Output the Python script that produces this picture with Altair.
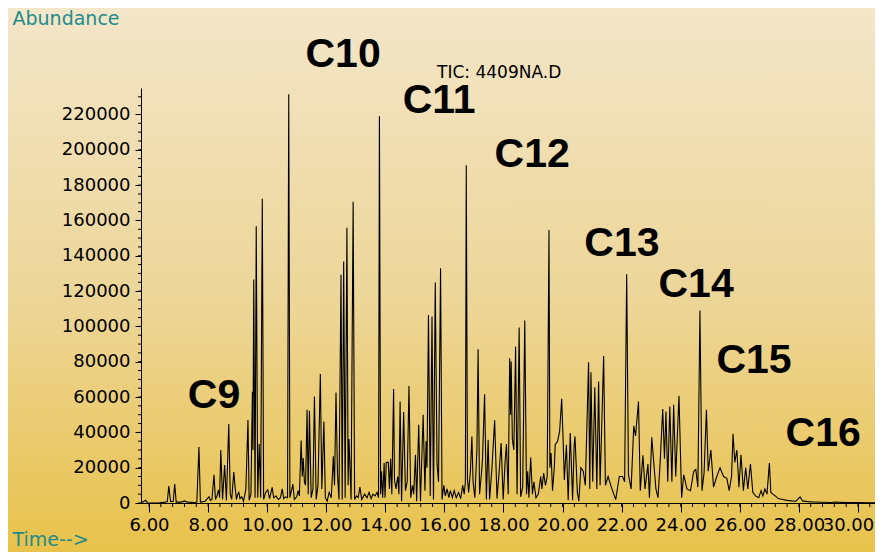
import altair as alt
import pandas as pd

# ---- chromatogram trace (retention time [min], abundance) ----
TRACE_06_10 = [
    (5.73, 0), (5.89, 1500), (5.95, 0), (6.30, 0), (6.55, 500), (6.62, 800),
    (6.67, 9600), (6.73, 800), (6.82, 1000), (6.87, 10700), (6.92, 500),
    (7.10, 500), (7.20, 1200), (7.30, 500), (7.55, 300), (7.62, 500),
    (7.69, 31700), (7.74, 500), (7.90, 1000), (8.03, 3500), (8.08, 1500),
    (8.13, 2000), (8.20, 16000), (8.25, 2000), (8.30, 4000), (8.35, 7500),
    (8.39, 3000), (8.43, 30000), (8.49, 2000), (8.56, 21500), (8.62, 1500),
    (8.70, 44700), (8.75, 5000), (8.80, 2000), (8.87, 17500), (8.92, 8000),
    (8.96, 2000), (9.00, 5000), (9.04, 6000), (9.08, 2500), (9.14, 3500),
    (9.20, 1000), (9.28, 8000), (9.35, 47000), (9.39, 1500), (9.45, 5000),
    (9.50, 63000), (9.52, 30000), (9.545, 126500), (9.59, 3000),
    (9.63, 156700), (9.68, 3000), (9.73, 33400), (9.78, 3000),
    (9.835, 172300), (9.88, 2000), (9.95, 6000),
]
TRACE_10_14 = [
    (10.02, 7500), (10.08, 2500), (10.17, 8900), (10.22, 3000), (10.30, 4000),
    (10.38, 2000), (10.45, 3000), (10.51, 8000), (10.56, 2500), (10.62, 3500),
    (10.69, 3000), (10.73, 231500), (10.77, 3000), (10.87, 10700), (10.92, 2000),
    (11.00, 3500), (11.05, 7000), (11.09, 4000), (11.15, 35400), (11.19, 15000),
    (11.22, 25400), (11.26, 12000), (11.30, 10000), (11.35, 52800), (11.39, 5000),
    (11.43, 52200), (11.49, 3000), (11.55, 8000), (11.60, 60300), (11.66, 2000),
    (11.72, 10000), (11.80, 73100), (11.85, 8000), (11.92, 46200), (11.97, 3000),
    (12.03, 1000), (12.10, 6000), (12.17, 3000), (12.24, 26400), (12.28, 10000),
    (12.33, 62600), (12.38, 17000), (12.43, 2000), (12.50, 129200), (12.54, 2000),
    (12.59, 136700), (12.64, 3000), (12.70, 155900), (12.74, 10000),
    (12.77, 36200), (12.84, 2000), (12.91, 170600), (12.96, 2000), (13.02, 4000),
    (13.08, 3000), (13.14, 9000), (13.20, 2000), (13.30, 5000), (13.38, 3000),
    (13.45, 6000), (13.52, 2500), (13.58, 5000), (13.65, 4000), (13.72, 6000),
    (13.77, 3000), (13.80, 219000), (13.84, 5000), (13.87, 18000), (13.91, 3000),
    (13.96, 22600), (13.99, 3000), (14.03, 23000),
]
TRACE_14_18 = [
    (14.10, 23000), (14.14, 8000), (14.18, 25000), (14.22, 5000), (14.28, 64500),
    (14.31, 13000), (14.36, 8000), (14.42, 15000), (14.46, 5000), (14.50, 57500),
    (14.55, 1000), (14.62, 51500), (14.68, 7000), (14.74, 12000), (14.80, 66300),
    (14.86, 3000), (14.92, 10000), (14.96, 5000), (15.02, 27300), (15.06, 1000),
    (15.13, 44300), (15.19, 1000), (15.28, 50000), (15.34, 7000), (15.38, 35000),
    (15.41, 20000), (15.46, 106500), (15.52, 4000), (15.58, 105600), (15.63, 2000),
    (15.69, 124800), (15.75, 22000), (15.80, 12000), (15.87, 132900), (15.92, 2000),
    (15.98, 10000), (16.03, 4000), (16.09, 8000), (16.15, 3000), (16.20, 7000),
    (16.27, 3000), (16.33, 7000), (16.40, 3000), (16.48, 6000), (16.55, 2500),
    (16.62, 10000), (16.67, 5000), (16.71, 12000), (16.74, 191300), (16.78, 14000),
    (16.82, 6000), (16.88, 18000), (16.93, 37700), (16.97, 12000), (17.03, 3000),
    (17.10, 30000), (17.14, 87100), (17.19, 5000), (17.26, 18000), (17.29, 25000),
    (17.36, 61600), (17.42, 2000), (17.48, 35800), (17.53, 2000), (17.61, 20000),
    (17.70, 46800), (17.78, 2500), (17.85, 17000), (17.92, 33900), (17.99, 2000),
]
TRACE_18_22 = [
    (18.05, 22000), (18.10, 33400), (18.16, 5000), (18.21, 82000), (18.24, 50000),
    (18.26, 80100), (18.30, 36000), (18.35, 30000), (18.41, 88600), (18.46, 5000),
    (18.53, 99400), (18.58, 3500), (18.65, 9000), (18.72, 103300), (18.78, 5000),
    (18.82, 18000), (18.86, 3000), (18.92, 25800), (18.98, 5000), (19.03, 12000),
    (19.10, 3000), (19.18, 5000), (19.26, 15000), (19.30, 8000), (19.36, 17000),
    (19.42, 10000), (19.48, 15000), (19.54, 154600), (19.57, 20000), (19.61, 28300),
    (19.66, 7000), (19.72, 20000), (19.75, 33000), (19.83, 35000), (19.90, 40500),
    (19.97, 59000), (20.01, 40000), (20.06, 13000), (20.13, 33000), (20.19, 1500),
    (20.26, 39600), (20.34, 1500), (20.39, 32000), (20.42, 37700), (20.50, 6000),
    (20.55, 1000), (20.62, 20000), (20.70, 18000), (20.77, 10000), (20.88, 79700),
    (20.92, 8000), (20.96, 74100), (21.02, 12000), (21.09, 65600), (21.16, 8000),
    (21.22, 68800), (21.27, 10000), (21.39, 83300), (21.45, 10000), (21.54, 15000),
    (21.65, 9000), (21.80, 2000), (21.92, 15000),
]
TRACE_22_26 = [
    (22.03, 15000), (22.10, 12000), (22.17, 129500), (22.23, 16000), (22.32, 8000),
    (22.41, 43700), (22.47, 38000), (22.57, 57500), (22.63, 7000), (22.72, 27000),
    (22.79, 8000), (22.89, 22000), (22.94, 3000), (23.02, 37200), (23.10, 20000),
    (23.16, 8000), (23.23, 3000), (23.30, 22000), (23.39, 53200), (23.45, 25000),
    (23.50, 51800), (23.56, 12000), (23.63, 54700), (23.70, 12000), (23.76, 55600),
    (23.83, 15000), (23.94, 60700), (24.03, 3000), (24.10, 16000), (24.21, 8000),
    (24.33, 7000), (24.44, 18000), (24.51, 19000), (24.58, 9000), (24.65, 109000),
    (24.72, 7000), (24.79, 17000), (24.87, 52800), (24.93, 18000), (25.02, 30000),
    (25.11, 9000), (25.22, 15000), (25.33, 20000), (25.45, 15000), (25.56, 14000),
    (25.64, 7000), (25.72, 15000), (25.77, 39200), (25.83, 23000), (25.90, 30000),
    (25.97, 9000),
]
TRACE_26_31 = [
    (26.04, 27300), (26.12, 7000), (26.20, 20000), (26.27, 8000), (26.36, 22000),
    (26.44, 6000), (26.53, 4000), (26.64, 3000), (26.72, 7000), (26.78, 4000),
    (26.85, 8000), (26.92, 5000), (27.00, 22600), (27.05, 6000), (27.12, 5000),
    (27.20, 4000), (27.30, 2500), (27.45, 2000), (27.60, 1500), (27.75, 1200),
    (27.90, 1000), (28.04, 3500), (28.12, 1200), (28.30, 800), (28.50, 600),
    (28.80, 400), (29.10, 300), (29.22, 600), (29.60, 200), (30.00, 200),
    (30.40, 100), (30.85, 100),
]

# ---- annotations ----
LABEL_TEXT = ["C9", "C10", "C11", "C12", "C13", "C14", "C15", "C16"]
LABEL_TIME = [8.20, 12.57, 15.82, 18.97, 22.01, 24.52, 26.48, 28.82]
LABEL_ABUND = [60500, 253900, 227400, 196800, 146500, 123300, 80300, 39000]
FILE_LABEL = ["TIC: 4409NA.D"]
FILE_TIME = [15.75]
FILE_ABUND = [243500]

# ---- axis ticks ----
X_DOMAIN = [5.729, 30.576]
Y_DOMAIN = [0, 235000]
X_MAJOR = [6, 8, 10, 12, 14, 16, 18, 20, 22, 24, 26, 28, 30]
Y_MAJOR = [0, 20000, 40000, 60000, 80000, 100000, 120000, 140000, 160000,
           180000, 200000, 220000]
X_MINOR = [round(6 + 0.4 * i, 1) for i in range(62)]
Y_MINOR = [5000 * i for i in range(47)]

TEAL = "#1E8C8C"
W, H = 734, 415
PAD_L, PAD_T, PAD_B = 133, 80, 49

trace = pd.DataFrame(
    TRACE_06_10 + TRACE_10_14 + TRACE_14_18 + TRACE_18_22 + TRACE_22_26 + TRACE_26_31,
    columns=["time", "abundance"],
)
labels = pd.DataFrame({"text": LABEL_TEXT, "time": LABEL_TIME, "abundance": LABEL_ABUND})
file_lbl = pd.DataFrame({"text": FILE_LABEL, "time": FILE_TIME, "abundance": FILE_ABUND})
xminor = pd.DataFrame({"time": X_MINOR, "abundance": [0] * len(X_MINOR)})
yminor = pd.DataFrame({"abundance": Y_MINOR, "time": [X_DOMAIN[0]] * len(Y_MINOR)})

xscale = alt.Scale(domain=X_DOMAIN, nice=False, zero=False)
yscale = alt.Scale(domain=Y_DOMAIN, nice=False, zero=False)

x_axis = alt.Axis(
    values=X_MAJOR, format=".2f", tickSize=9, labelPadding=4, labelOverlap=False,
    labelFlush=False, labelFont="DejaVu Sans", labelFontSize=18, labelColor="black",
    labelOffset={"condition": {"test": "datum.value == 30", "value": -10}, "value": 0},
    domainColor="black", tickColor="black", grid=False, zindex=1,
    title="Time-->", titleColor=TEAL, titleFont="DejaVu Sans", titleFontSize=19,
    titleFontWeight="normal", titleAngle=0, titleAlign="left",
    titleBaseline="alphabetic", titleX=-129, titleY=42,
)
y_axis = alt.Axis(
    values=Y_MAJOR, format="d", tickSize=6, labelPadding=5, labelOverlap=False,
    labelFont="DejaVu Sans", labelFontSize=18, labelColor="black",
    domainColor="black", tickColor="black", grid=False, zindex=1,
    title="Abundance", titleColor=TEAL, titleFont="DejaVu Sans", titleFontSize=19,
    titleFontWeight="normal", titleAngle=0, titleAlign="left",
    titleBaseline="alphabetic", titleX=-129, titleY=-64,
)


def X(field="time:Q"):
    return alt.X(field, scale=xscale, axis=x_axis)


def Y(field="abundance:Q"):
    return alt.Y(field, scale=yscale, axis=y_axis)


bg = alt.Chart(pd.DataFrame({"k": [0]})).mark_rect(
    color=alt.Gradient(
        gradient="linear",
        stops=[
            alt.GradientStop(color="#F3E6C9", offset=0),
            alt.GradientStop(color="#EDD596", offset=0.55),
            alt.GradientStop(color="#E8C24A", offset=1),
        ],
        x1=0, x2=0, y1=0, y2=1,
    )
).encode(
    x=alt.value(-PAD_L), x2=alt.value(W), y=alt.value(-PAD_T), y2=alt.value(H + PAD_B)
)

line = alt.Chart(trace).mark_line(color="black", strokeWidth=1.1).encode(x=X(), y=Y())

xticks = alt.Chart(xminor).mark_rule(color="black", strokeWidth=1).encode(
    x=X(), y=alt.value(H), y2=alt.value(H + 4),
)
yticks = alt.Chart(yminor).mark_rule(color="black", strokeWidth=1).encode(
    y=Y(), x=alt.value(-3), x2=alt.value(0),
)

peak_labels = alt.Chart(labels).mark_text(
    font="Liberation Sans", fontSize=41, fontWeight="bold", color="black",
    align="center", baseline="middle",
).encode(x=X(), y=Y(), text="text:N")

file_text = alt.Chart(file_lbl).mark_text(
    font="DejaVu Sans", fontSize=17, color="black", align="left", baseline="middle",
).encode(x=X(), y=Y(), text="text:N")

chart = alt.layer(bg, xticks, yticks, line, peak_labels, file_text).properties(
    width=W, height=H,
    padding={"left": PAD_L, "top": PAD_T, "right": 0, "bottom": PAD_B},
    autosize=alt.AutoSizeParams(type="none"),
    background="#EDD596",
).configure_view(stroke=None)

chart.save("out.html", embed_options={"renderer": "svg", "actions": False})
